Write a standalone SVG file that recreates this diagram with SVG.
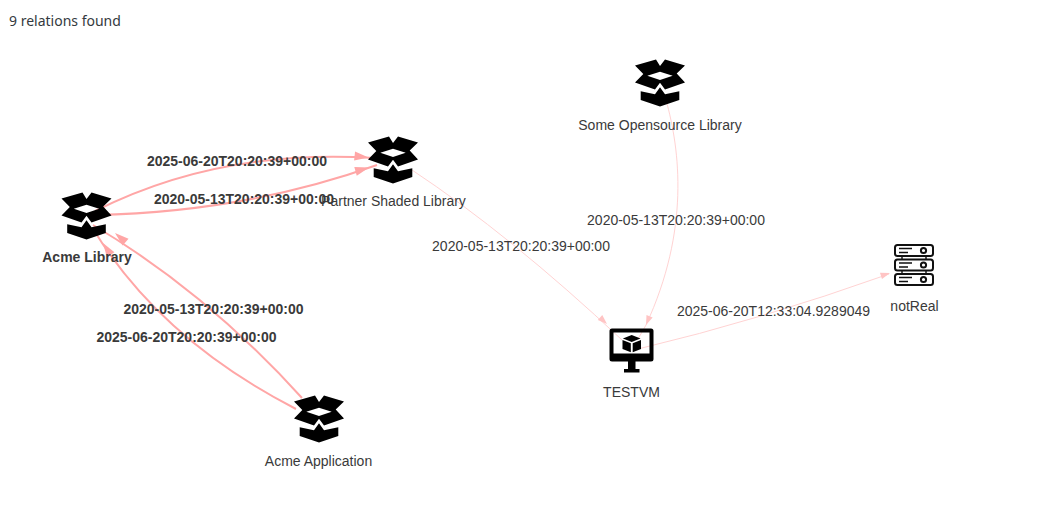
<svg xmlns="http://www.w3.org/2000/svg" xmlns:xlink="http://www.w3.org/1999/xlink" width="1048" height="515" viewBox="0 0 1048 515">
<style>
.bg{fill:#fff}
.e{fill:none}
.s{stroke:#ffa6a6;stroke-width:2}
.t{stroke:#ffd3d3;stroke-width:1}
.hs{fill:#ffa6a6}
.ht{fill:#ffc4c4}
text{font-family:"Liberation Sans",Arial,sans-serif;font-size:14px;fill:#3a3a3a;text-anchor:middle}
.b{font-weight:bold}
.h{font-family:"Noto Sans","Open Sans",sans-serif;font-size:14px;fill:#343a40;text-anchor:start}
.srv{fill:none;stroke:#111;stroke-width:2}
.srvl{fill:none;stroke:#111;stroke-width:1.400}
</style>
<defs>
<g id="box">
<path fill-rule="evenodd" d="M-25,-17 L-4,-23 L0,-16.500 L5,-23 L25,-17 L16.700,-9 L25,0 L5,7 L0,0.200 L-5,7 L-25,0 L-16.700,-8.500 Z M-12.700,-6.800 L0,-2.500 L12.700,-6.800 L0,-10.800 Z"/>
<path d="M-19.300,8.800 L-5,11.800 L0,4.800 L5,11.800 L19.300,8.800 L19.300,17.500 L0,24 L-19.300,17.500 Z"/>
</g>
<polygon id="ahs" points="0,0 -14,-4.500 -14,4.500"/>
<polygon id="aht" points="0,0 -9.500,-3.300 -9.500,3.300"/>
</defs>
<rect class="bg" width="1048" height="515"/>
<text class="h" x="9" y="26">9 relations found</text>
<g id="connectors">
<path class="e s" d="M95,211 Q220,148 375,158"/>
<path class="e s" d="M95,215 Q245,212 377,165"/>
<path class="e s" d="M302,398 Q206,292 93,225"/>
<path class="e s" d="M296,409 Q162,340 95,232"/>
<path class="e t" d="M412,170 Q510,235 622,340"/>
<path class="e t" d="M666,100 C680,150 690,230 646,325 L638,339"/>
<path class="e t" d="M638,349 Q760,320 889,274"/>
<use xlink:href="#ahs" href="#ahs" class="hs" transform="translate(368.500,157.500) rotate(6)"/>
<use xlink:href="#ahs" href="#ahs" class="hs" transform="translate(369,167.500) rotate(-16)"/>
<use xlink:href="#ahs" href="#ahs" class="hs" transform="translate(115,233) rotate(-139)"/>
<use xlink:href="#ahs" href="#ahs" class="hs" transform="translate(103,243) rotate(-123)"/>
<use xlink:href="#aht" href="#aht" class="ht" transform="translate(607,324) rotate(43)"/>
<use xlink:href="#aht" href="#aht" class="ht" transform="translate(646,325) rotate(112)"/>
<use xlink:href="#aht" href="#aht" class="ht" transform="translate(890,273) rotate(-18)"/>
</g>
<g id="node-acme-library">
<use xlink:href="#box" href="#box" transform="translate(86.500,215.500)"/>
<text class="b" x="87" y="262">Acme Library</text>
</g>
<g id="node-partner">
<use xlink:href="#box" href="#box" transform="translate(393,159.500)"/>
<text x="393.500" y="206">Partner Shaded Library</text>
</g>
<g id="node-opensource">
<use xlink:href="#box" href="#box" transform="translate(660,82.500)"/>
<text x="660" y="130">Some Opensource Library</text>
</g>
<g id="node-acme-application">
<use xlink:href="#box" href="#box" transform="translate(319,418.500)"/>
<text x="318.500" y="466">Acme Application</text>
</g>
<g id="node-testvm">
<path fill-rule="evenodd" d="M612,328.500 H651 a2.500,2.500 0 0 1 2.500,2.500 V359 a2.500,2.500 0 0 1 -2.500,2.500 H612 a2.500,2.500 0 0 1 -2.500,-2.500 V331 a2.500,2.500 0 0 1 2.500,-2.500 Z M613.500,332.500 V353.500 H649.500 V332.500 Z"/>
<path d="M628,361 H635.500 V369 H639.500 V372.500 H624 V369 H628 Z"/>
<path d="M631.700,335 L640.500,338.500 L631.700,342 L622.900,338.500 Z"/>
<path d="M622.500,340 L630.800,343.300 V352.300 L622.500,349 Z"/>
<path d="M641,340 L632.700,343.300 V352.300 L641,349 Z"/>
<text x="631.500" y="397">TESTVM</text>
</g>
<g id="node-notreal">
<rect class="srv" x="895" y="245" width="38" height="11" rx="2.500"/>
<rect class="srv" x="895" y="259.500" width="38" height="11" rx="2.500"/>
<rect class="srv" x="895" y="274" width="38" height="11" rx="2.500"/>
<path class="srvl" d="M902,256 V259.500 M926,256 V259.500 M902,270.500 V274 M926,270.500 V274 M899,248.500 H912 M899,252.500 H908 M899,263 H912 M899,267 H908 M899,277.500 H912 M899,281.500 H908"/>
<circle class="srv" cx="923.500" cy="250.500" r="2.600"/>
<circle class="srv" cx="923.500" cy="265" r="2.600"/>
<circle class="srv" cx="923.500" cy="279.500" r="2.600"/>
<text x="914.500" y="311">notReal</text>
</g>
<g id="edge-labels">
<text class="b" x="237" y="166">2025-06-20T20:20:39+00:00</text>
<text class="b" x="244" y="204">2020-05-13T20:20:39+00:00</text>
<text class="b" x="213.500" y="314">2020-05-13T20:20:39+00:00</text>
<text class="b" x="186.500" y="342">2025-06-20T20:20:39+00:00</text>
<text x="521" y="251">2020-05-13T20:20:39+00:00</text>
<text x="676" y="225">2020-05-13T20:20:39+00:00</text>
<text x="773.500" y="316">2025-06-20T12:33:04.9289049</text>
</g>
</svg>
